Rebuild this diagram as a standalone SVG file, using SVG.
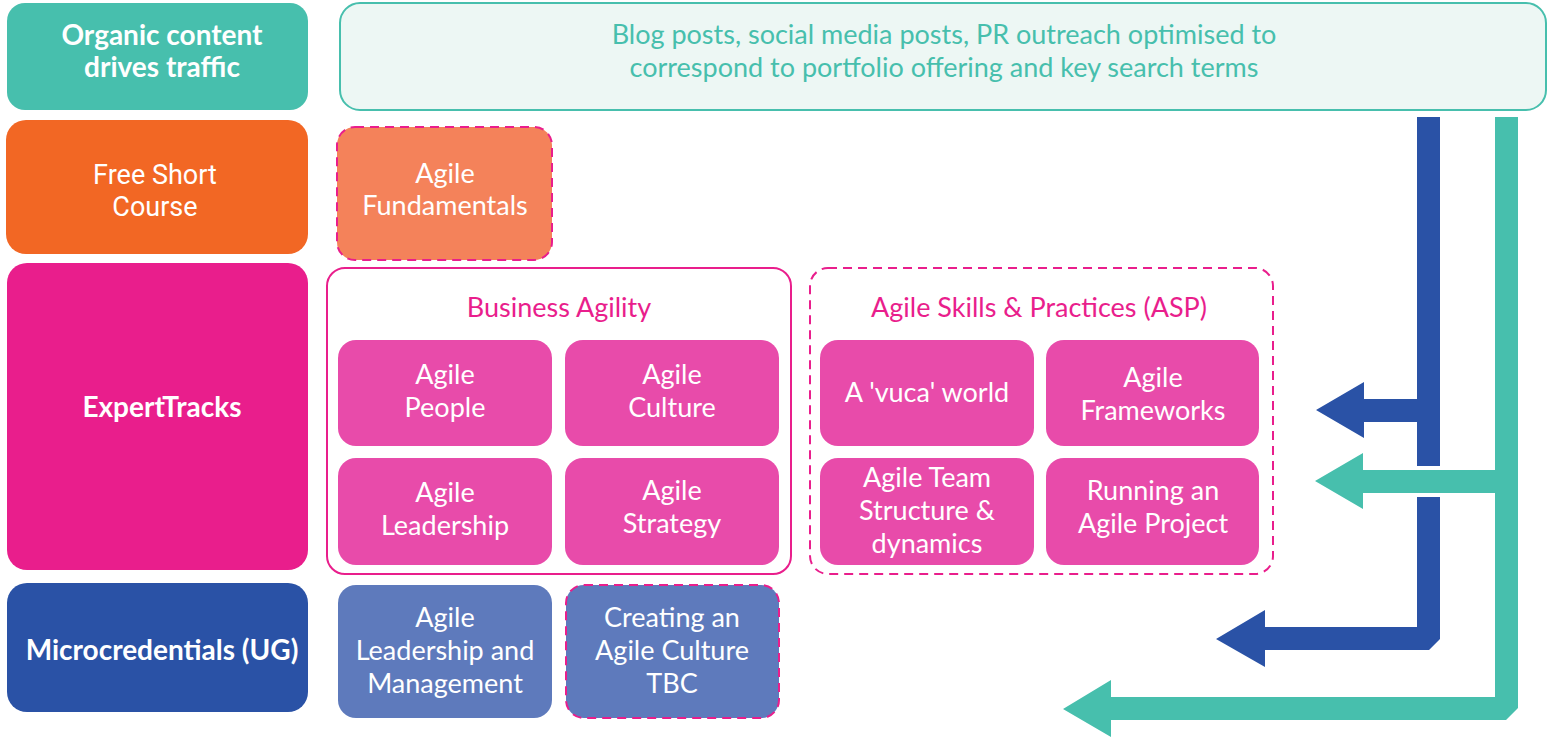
<svg xmlns="http://www.w3.org/2000/svg" width="1547" height="741" viewBox="0 0 1547 741">
<style>
text{font-family:Lato,"Open Sans","DejaVu Sans",sans-serif;text-anchor:middle;font-size:27px;fill:#fff}
.b{font-weight:bold;font-size:28px}
.rb{font-family:Roboto,"Liberation Sans",sans-serif;font-size:27px}
.pk{fill:#e91e8c}
.tl{fill:#47bfad}
.inner{fill:#e84baa}
.micro{fill:#5e7abc}
.dash{stroke:#e91e8c;stroke-width:2;stroke-dasharray:9 6;fill:none}
</style>
<rect width="1547" height="741" fill="#fff"/>
<g id="organic">
<rect x="7" y="3" width="301" height="107" rx="18" fill="#47bfad"/>
<text class="b" x="162" y="45">Organic content</text>
<text class="b" x="162" y="77">drives traffic</text>
</g>
<g id="blog">
<rect x="340" y="3" width="1206" height="107" rx="20" fill="#edf7f4" stroke="#47bfad" stroke-width="2"/>
<text class="tl" x="944" y="44">Blog posts, social media posts, PR outreach optimised to</text>
<text class="tl" x="944" y="77">correspond to portfolio offering and key search terms</text>
</g>
<g id="free-short-course">
<rect x="6" y="120" width="302" height="134" rx="20" fill="#f26724"/>
<text class="rb" x="155" y="184">Free Short</text>
<text class="rb" x="155" y="216">Course</text>
</g>
<g id="agile-fundamentals">
<rect x="337" y="127" width="215" height="133" rx="18" fill="#f4825a"/>
<rect x="337" y="127" width="215" height="133" rx="18" class="dash"/>
<text x="445" y="183">Agile</text>
<text x="445" y="215">Fundamentals</text>
</g>
<g id="experttracks">
<rect x="7" y="263" width="301" height="307" rx="20" fill="#e91e8c"/>
<text class="b" x="162" y="417">ExpertTracks</text>
</g>
<g id="business-agility">
<rect x="327" y="268" width="464" height="306" rx="18" fill="#fff" stroke="#e91e8c" stroke-width="2"/>
<text class="pk" x="559" y="317">Business Agility</text>
</g>
<g id="agile-people">
<rect x="338" y="340" width="214" height="106" rx="18" class="inner"/>
<text x="445" y="384">Agile</text>
<text x="445" y="417">People</text>
</g>
<g id="agile-culture">
<rect x="565" y="340" width="214" height="106" rx="18" class="inner"/>
<text x="672" y="384">Agile</text>
<text x="672" y="417">Culture</text>
</g>
<g id="agile-leadership">
<rect x="338" y="458" width="214" height="107" rx="18" class="inner"/>
<text x="445" y="502">Agile</text>
<text x="445" y="535">Leadership</text>
</g>
<g id="agile-strategy">
<rect x="565" y="458" width="214" height="107" rx="18" class="inner"/>
<text x="672" y="500">Agile</text>
<text x="672" y="533">Strategy</text>
</g>
<g id="asp">
<rect x="810" y="268" width="463" height="306" rx="18" class="dash"/>
<text class="pk" x="1039" y="317">Agile Skills &amp; Practices (ASP)</text>
</g>
<g id="vuca">
<rect x="820" y="340" width="214" height="106" rx="18" class="inner"/>
<text x="927" y="402">A 'vuca' world</text>
</g>
<g id="agile-frameworks">
<rect x="1046" y="340" width="213" height="106" rx="18" class="inner"/>
<text x="1153" y="387">Agile</text>
<text x="1153" y="420">Frameworks</text>
</g>
<g id="agile-team">
<rect x="820" y="458" width="214" height="107" rx="18" class="inner"/>
<text x="927" y="487">Agile Team</text>
<text x="927" y="520">Structure &amp;</text>
<text x="927" y="553">dynamics</text>
</g>
<g id="running-project">
<rect x="1046" y="458" width="213" height="107" rx="18" class="inner"/>
<text x="1153" y="500">Running an</text>
<text x="1153" y="533">Agile Project</text>
</g>
<g id="microcredentials">
<rect x="7" y="583" width="301" height="129" rx="20" fill="#2a52a6"/>
<text class="b" x="162" y="660">Microcredentials (UG)</text>
</g>
<g id="leadership-management">
<rect x="338" y="585" width="214" height="133" rx="18" class="micro"/>
<text x="445" y="627">Agile</text>
<text x="445" y="660">Leadership and</text>
<text x="445" y="693">Management</text>
</g>
<g id="creating-culture">
<rect x="566" y="585" width="213" height="133" rx="18" class="micro"/>
<rect x="566" y="585" width="213" height="133" rx="18" class="dash"/>
<text x="672" y="627">Creating an</text>
<text x="672" y="660">Agile Culture</text>
<text x="672" y="693">TBC</text>
</g>
<g id="connectors">
<polygon fill="#2a52a6" points="1440,117 1440,466 1417,466 1417,422 1364,422 1364,438 1316,410 1364,382 1364,399 1417,399 1417,117"/>
<polygon fill="#2a52a6" points="1417,497 1440,497 1440,639 1429,650 1265,650 1265,667 1216,639 1265,610 1265,627 1417,627"/>
<polygon fill="#47bfad" points="1495,117 1518,117 1518,708 1506,720 1111,720 1111,737 1063,709 1111,680 1111,697 1495,697 1495,493 1363,493 1363,509 1315,481 1363,453 1363,470 1495,470"/>
</g>
</svg>
